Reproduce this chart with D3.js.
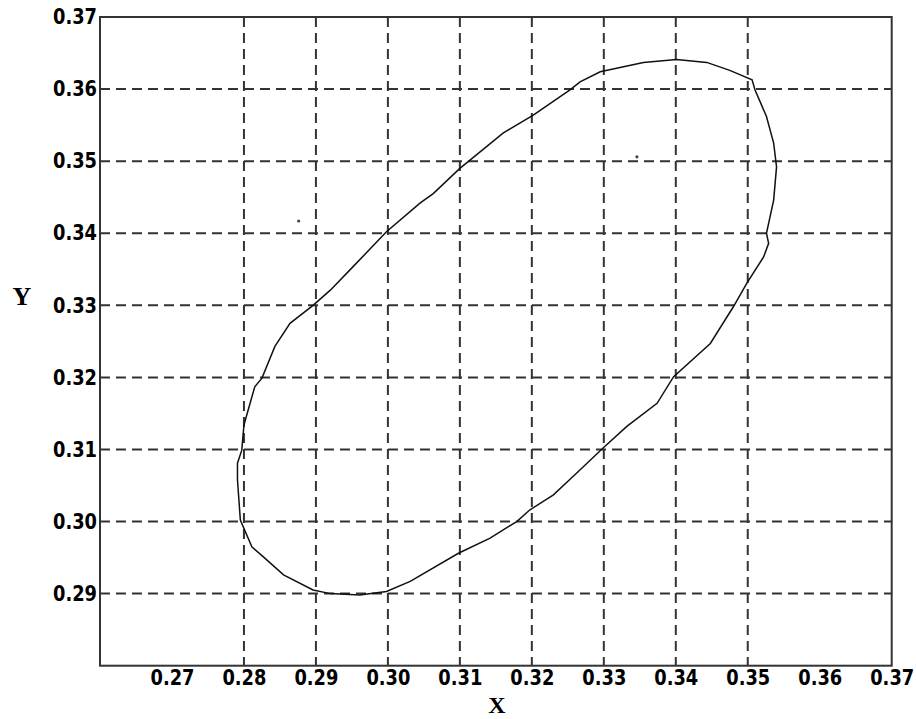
<!DOCTYPE html>
<html>
<head>
<meta charset="utf-8">
<script src="https://cdn.jsdelivr.net/npm/d3@7"></script>
<style>
  body { margin: 0; background: #fff; }
  .tick text { font-family: "DejaVu Sans Condensed", "DejaVu Sans", sans-serif; font-weight: bold; fill: #000; }
</style>
</head>
<body>
<svg width="916" height="719"></svg>
<script>
// traced boundary (x, y), going round once
const curveX = [0.2896,0.2864,0.2843,0.2825,0.2815,0.2800,0.2797,0.2791,0.2791,0.2795,
                0.2811,0.2827,0.2855,0.2896,0.2920,0.2961,0.2998,0.3031,0.3098,0.3142,
                0.3179,0.3197,0.3230,0.3262,0.3299,0.3332,0.3374,0.3397,0.3448,0.3480,
                0.3499,0.3522,0.3529,0.3526,0.3536,0.3540,0.3536,0.3526,0.3510,0.3506,
                0.3475,0.3443,0.3401,0.3355,0.3295,0.3267,0.3253,0.3202,0.3160,0.3100,
                0.3063,0.3045,0.2998,0.2952,0.2920];
const curveY = [0.3300,0.3275,0.3243,0.3199,0.3187,0.3134,0.3099,0.3081,0.3058,0.3002,
                0.2965,0.2951,0.2926,0.2905,0.2900,0.2898,0.2903,0.2917,0.2956,0.2977,
                0.3000,0.3016,0.3037,0.3067,0.3102,0.3132,0.3164,0.3201,0.3247,0.3298,
                0.3331,0.3367,0.3386,0.3400,0.3446,0.3492,0.3525,0.3562,0.3599,0.3613,
                0.3626,0.3637,0.3641,0.3637,0.3624,0.3610,0.3599,0.3564,0.3539,0.3490,
                0.3455,0.3442,0.3402,0.3354,0.3321];
// two stray dots
const dotX = [0.2876, 0.3346];
const dotY = [0.3417, 0.3506];

const xTicks = [0.27,0.28,0.29,0.30,0.31,0.32,0.33,0.34,0.35,0.36,0.37];
const yTicks = [0.29,0.30,0.31,0.32,0.33,0.34,0.35,0.36,0.37];
const xGrid = [0.28,0.29,0.30,0.31,0.32,0.33,0.34,0.35];
const yGrid = [0.29,0.30,0.31,0.32,0.33,0.34,0.35,0.36];

const svg = d3.select("svg");
const pLeft = 100, pRight = 891.7, pTop = 17, pBottom = 665.7;

const x = d3.scaleLinear().domain([0.26, 0.37]).range([pLeft, pRight]);
const y = d3.scaleLinear().domain([0.28, 0.37]).range([pBottom, pTop]);

// grid
svg.append("g").selectAll("line").data(xGrid).join("line")
    .attr("x1", d => x(d)).attr("x2", d => x(d))
    .attr("y1", pTop).attr("y2", pBottom)
    .attr("stroke", "#333").attr("stroke-width", 2)
    .attr("stroke-dasharray", "10,6");
svg.append("g").selectAll("line").data(yGrid).join("line")
    .attr("x1", pLeft).attr("x2", pRight)
    .attr("y1", d => y(d)).attr("y2", d => y(d))
    .attr("stroke", "#333").attr("stroke-width", 2)
    .attr("stroke-dasharray", "10,6");

// frame
svg.append("rect")
    .attr("x", pLeft).attr("y", pTop)
    .attr("width", pRight - pLeft).attr("height", pBottom - pTop)
    .attr("fill", "none").attr("stroke", "#333").attr("stroke-width", 2);

// axes
const fmt = d3.format(".2f");
const gx = svg.append("g").attr("transform", `translate(0,${pBottom})`)
    .call(d3.axisBottom(x).tickValues(xTicks).tickSize(0).tickPadding(4).tickFormat(fmt));
const gy = svg.append("g").attr("transform", `translate(${pLeft},0)`)
    .call(d3.axisLeft(y).tickValues(yTicks).tickSize(0).tickPadding(3).tickFormat(fmt));
[gx, gy].forEach(g => {
    g.select(".domain").remove();
    g.selectAll("text").attr("font-size", 21)
        .attr("textLength", 44).attr("lengthAdjust", "spacingAndGlyphs");
});

// curve
const pts = curveX.map((v, i) => [v, curveY[i]]);
const line = d3.line().x(d => x(d[0])).y(d => y(d[1])).curve(d3.curveLinearClosed);
svg.append("path").datum(pts)
    .attr("d", line)
    .attr("fill", "none").attr("stroke", "#111").attr("stroke-width", 1.5);

svg.append("g").selectAll("circle").data(dotX).join("circle")
    .attr("cx", d => x(d)).attr("cy", (d, i) => y(dotY[i]))
    .attr("r", 1.6).attr("fill", "#444");

// axis titles
svg.append("text").text("Y")
    .attr("x", 22).attr("y", 305)
    .attr("text-anchor", "middle")
    .attr("font-family", "Liberation Serif, serif").attr("font-weight", "bold")
    .attr("font-size", 26);
svg.append("text").text("X")
    .attr("x", 497).attr("y", 713)
    .attr("text-anchor", "middle")
    .attr("font-family", "Liberation Serif, serif").attr("font-weight", "bold")
    .attr("font-size", 24);
</script>
</body>
</html>
